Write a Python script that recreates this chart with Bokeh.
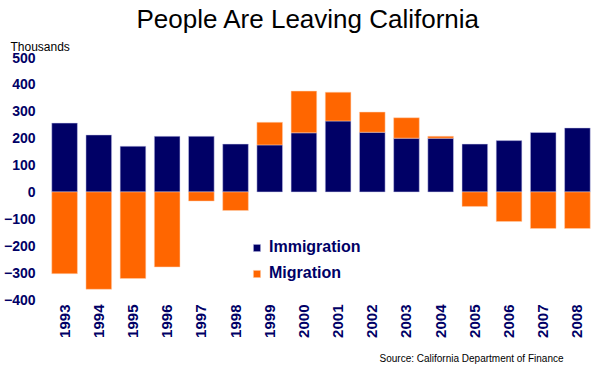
from bokeh.plotting import figure
from bokeh.models import FactorRange, Range1d, Title, Legend, LegendItem, ColumnDataSource
from bokeh.embed import file_html
from bokeh.resources import INLINE
import math

years = ["1993", "1994", "1995", "1996", "1997", "1998", "1999", "2000",
         "2001", "2002", "2003", "2004", "2005", "2006", "2007", "2008"]
immigration = [256, 212, 170, 207, 207, 178, 175, 220, 264, 222, 200, 200, 178, 191, 221, 238]
migration = [-304, -362, -322, -279, -34, -69, 84, 155, 107, 75, 76, 7, -54, -110, -136, -136]

NAVY = "#000066"
ORANGE = "#FF6600"
FONT = "Liberation Sans"

mig_bottom = [i if m > 0 else 0 for i, m in zip(immigration, migration)]
mig_top = [i + m if m > 0 else m for i, m in zip(immigration, migration)]

src = ColumnDataSource(dict(x=years, imm=immigration, zero=[0] * len(years),
                            mb=mig_bottom, mt=mig_top))

FL, FB = 41, 299  # frame left / bottom in canvas pixels

p = figure(width=595, height=375, x_range=FactorRange(*years, range_padding=0),
           y_range=Range1d(-400, 500), output_backend="svg", toolbar_location=None,
           min_border_left=FL, min_border_right=1, min_border_top=57, min_border_bottom=375 - FB)
p.outline_line_color = None
p.grid.visible = False
p.background_fill_color = "white"

p.title.text = "People Are Leaving California"
p.title.text_font = FONT
p.title.text_font_size = "26px"
p.title.text_font_style = "normal"
p.title.text_color = "black"
p.title.align = "left"
p.title.offset = 89
p.title.standoff = 0

p.add_layout(Title(text="Thousands", text_font=FONT, text_font_size="12px",
                   text_font_style="normal", text_color="black", align="left",
                   offset=-37, standoff=8), "above")

r1 = p.vbar(x="x", top="imm", bottom="zero", width=0.75, source=src,
            fill_color=NAVY, line_color="#ccccee", line_width=0.5)
r2 = p.vbar(x="x", top="mt", bottom="mb", width=0.75, source=src,
            fill_color=ORANGE, line_color="#ffd0b0", line_width=0.5)

p.yaxis.ticker = [-400, -300, -200, -100, 0, 100, 200, 300, 400, 500]
for ax in (p.xaxis[0], p.yaxis[0]):
    ax.axis_line_color = None
    ax.major_tick_line_color = None
    ax.minor_tick_line_color = None
    ax.major_label_text_color = NAVY
    ax.major_label_text_font = FONT
    ax.major_label_text_font_style = "bold"
    ax.major_label_text_font_size = "14px"
p.xaxis.major_label_text_font_size = "15px"
p.yaxis.major_label_standoff = 6
p.xaxis.major_label_orientation = math.pi / 2
p.xaxis.major_label_standoff = -1

p.add_layout(Title(text="Source: California Department of Finance", text_font=FONT,
                   text_font_size="10px", text_font_style="normal", text_color="black",
                   align="right", offset=31, standoff=20), "below")

legend = Legend(items=[LegendItem(label="Immigration", renderers=[r1]),
                       LegendItem(label="Migration", renderers=[r2])],
                location=(205, 17), border_line_color=None, background_fill_alpha=0,
                glyph_width=9, glyph_height=9, label_standoff=8, spacing=8,
                label_height=18, padding=0, margin=0,
                label_text_font=FONT, label_text_font_style="bold",
                label_text_font_size="16px", label_text_color=NAVY)
p.add_layout(legend, "center")

open("out.html", "w").write(file_html(p, INLINE))
